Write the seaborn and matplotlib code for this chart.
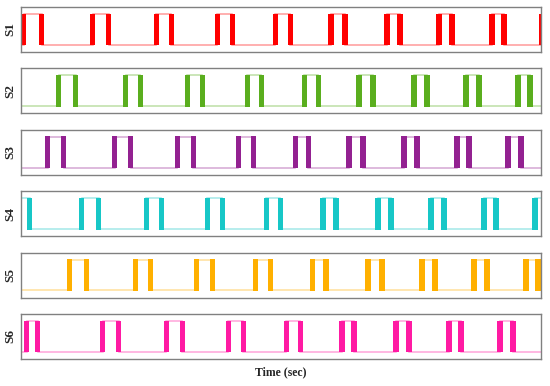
import numpy as np
import pandas as pd
import matplotlib
matplotlib.use("Agg")
import matplotlib.pyplot as plt
import seaborn as sns

# signal names and colours
names = ["S1", "S2", "S3", "S4", "S5", "S6"]
colors = ["#ff0000", "#5aae1e", "#932191", "#17c7c7", "#ffb000", "#ff1aa3"]

# rising / falling edge times, and state before the first edge
rise_S1 = [0, 69, 133, 194, 252, 308, 364, 416, 469, 519]
fall_S1 = [18, 85, 148, 209, 267, 322, 377, 429, 481]
rise_S2 = [35, 102, 164, 224, 281, 336, 391, 443, 495]
fall_S2 = [52, 117, 179, 238, 295, 350, 404, 456, 507]
rise_S3 = [24, 91, 154, 215, 272, 326, 381, 434, 485]
fall_S3 = [40, 107, 170, 230, 285, 340, 394, 446, 498]
rise_S4 = [58, 123, 184, 243, 300, 355, 408, 461, 512]
fall_S4 = [6, 75, 138, 199, 257, 313, 368, 421, 473]
rise_S5 = [46, 112, 173, 232, 289, 345, 399, 451, 503]
fall_S5 = [-4, 63, 127, 189, 247, 303, 359, 412, 464, 515]
rise_S6 = [3, 79, 143, 205, 263, 319, 373, 426, 477]
fall_S6 = [14, 95, 159, 220, 277, 331, 386, 438, 490]

rises = [rise_S1, rise_S2, rise_S3, rise_S4, rise_S5, rise_S6]
falls = [fall_S1, fall_S2, fall_S3, fall_S4, fall_S5, fall_S6]
start_state = [0, 0, 0, 1, 1, 0]

t_end = 521
edge_w = 5.5  # thickness of the switching bars

sns.set_style("white")
plt.rcParams["font.family"] = ["Liberation Serif", "DejaVu Serif"]

fig, axes = plt.subplots(6, 1, figsize=(5.5, 3.86), dpi=100)
fig.subplots_adjust(left=0.038, right=0.984, top=0.982, bottom=0.070, hspace=0.364)


def build_steps(rise, fall, s0):
    ev = sorted([(r + edge_w / 2, 1) for r in rise] + [(f + edge_w / 2, 0) for f in fall])
    xs = [-20.0] + [e[0] for e in ev] + [t_end + 5]
    ys = [s0] + [e[1] for e in ev] + [ev[-1][1]]
    return pd.DataFrame({"t": xs, "v": ys})


for ax, name, c, rise, fall, s0 in zip(axes, names, colors, rises, falls, start_state):
    df = build_steps(rise, fall, s0)
    sns.lineplot(data=df, x="t", y="v", ax=ax, color=c, alpha=0.4, lw=1.1,
                 drawstyle="steps-post", estimator=None, sort=False,
                 solid_joinstyle="miter", solid_capstyle="butt")
    edges = rise + fall
    # bars slightly taller than 0..1 so the thin line's corners stay hidden
    ax.bar(edges, [1.03] * len(edges), width=edge_w, bottom=-0.015, align="edge",
           color=c, linewidth=0)
    ax.set_xlim(0, t_end)
    ax.set_ylim(-0.23, 1.23)
    ax.set_xticks([])
    ax.set_yticks([])
    ax.set_xlabel("")
    ax.set_ylabel(name, fontsize=9.5, fontweight="bold")
    ax.yaxis.set_label_coords(-0.008, 0.5)
    for sp in ax.spines.values():
        sp.set_color("#808080")
        sp.set_linewidth(1.0)

fig.text(0.51, 0.036, "Time (sec)", ha="center", va="center",
         fontsize=8.5, fontweight="bold")

fig.savefig("out.png", dpi=100)
